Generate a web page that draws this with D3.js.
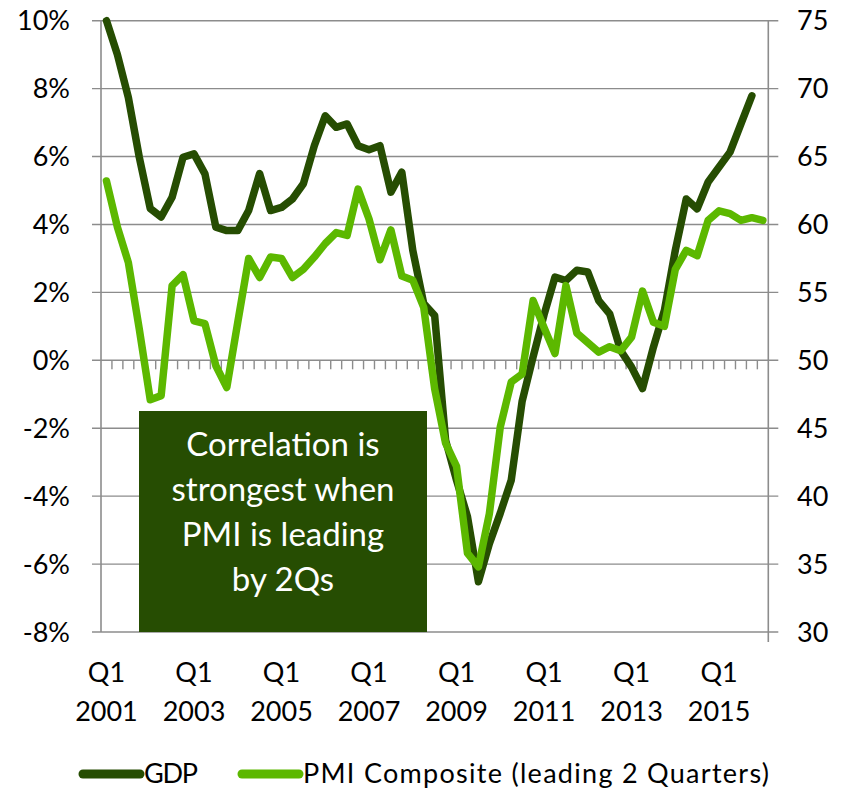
<!DOCTYPE html>
<html>
<head>
<meta charset="utf-8">
<script src="https://cdn.jsdelivr.net/npm/d3@7"></script>
<style>
  body { margin: 0; background: #fff; }
  svg { display: block; font-family: Lato, "Open Sans", sans-serif; }
</style>
</head>
<body>
<svg id="chart" width="844" height="789"></svg>
<script>
// quarters Q1 2001 .. Q1 2016
var quarters = [];
for (var yr = 2001; yr <= 2016; yr++) {
  for (var q = 1; q <= 4; q++) {
    if (yr == 2016 && q > 1) break;
    quarters.push("Q" + q + " " + yr);
  }
}

// GDP growth (%), Q1 2001 .. Q4 2015
var gdp = [
  10.0, 9.0, 7.74, 5.98, 4.47, 4.22, 4.8, 5.98, 6.08, 5.49,
  3.92, 3.82, 3.82, 4.41, 5.5, 4.41, 4.5, 4.75, 5.2, 6.32,
  7.2, 6.86, 6.96, 6.32, 6.2, 6.32, 4.95, 5.54, 3.24, 1.67,
  1.32, -2.35, -3.53, -4.6, -6.52, -5.4, -4.5, -3.53, -1.2, 0.1,
  1.34, 2.45, 2.35, 2.65, 2.6, 1.76, 1.37, 0.29, -0.2, -0.83,
  0.39, 1.47, 3.24, 4.75, 4.46, 5.25, 5.69, 6.13, 6.96, 7.79
];

// PMI composite, shifted forward 2 quarters, Q1 2001 .. Q1 2016
var pmi = [
  63.2, 59.8, 57.2, 52.3, 47.1, 47.4, 55.5, 56.3, 52.9, 52.7,
  49.6, 48.0, 52.8, 57.5, 56.1, 57.6, 57.5, 56.1, 56.7, 57.6,
  58.6, 59.4, 59.2, 62.6, 60.4, 57.4, 59.6, 56.2, 55.9, 53.9,
  47.9, 43.9, 42.2, 35.8, 34.8, 38.7, 45.1, 48.4, 49.0, 54.4,
  52.4, 50.5, 55.5, 52.0, 51.3, 50.6, 51.0, 50.7, 51.7, 55.1,
  52.8, 52.5, 56.7, 58.1, 57.7, 60.3, 61.0, 60.8, 60.3, 60.5, 60.3
];

var leftTicks = [-8, -6, -4, -2, 0, 2, 4, 6, 8, 10];
var rightTicks = [30, 35, 40, 45, 50, 55, 60, 65, 70, 75];
var xLabels = ["Q1 2001", "Q1 2003", "Q1 2005", "Q1 2007", "Q1 2009", "Q1 2011", "Q1 2013", "Q1 2015"];
var noteLines = ["Correlation is", "strongest when", "PMI is leading", "by 2Qs"];
var seriesNames = ["GDP", "PMI Composite (leading 2 Quarters)"];

var darkGreen = "#264d02";
var lightGreen = "#5cb800";
var gridColor = "#8c8c8c";

var svg = d3.select("#chart");

var plotLeft = 101, plotRight = 768.3, plotTop = 20.7, plotBottom = 632;

var x = d3.scaleBand().domain(quarters).range([plotLeft, plotRight]).padding(0);
var yL = d3.scaleLinear().domain([-8, 10]).range([plotBottom, plotTop]);
var yR = d3.scaleLinear().domain([30, 75]).range([plotBottom, plotTop]);
var cx = (d) => x(d) + x.bandwidth() / 2;

// ================ gridlines ================
svg.append("g")
  .selectAll("line")
  .data(leftTicks)
  .enter()
  .append("line")
  .attr("x1", plotLeft - 9)
  .attr("x2", plotRight + 10)
  .attr("y1", (d) => yL(d))
  .attr("y2", (d) => yL(d))
  .style("stroke", gridColor)
  .style("stroke-width", "1.4px");

// axis lines
svg.append("line")
  .attr("x1", plotLeft).attr("x2", plotLeft)
  .attr("y1", plotTop).attr("y2", plotBottom)
  .style("stroke", gridColor).style("stroke-width", "1.6px");
svg.append("line")
  .attr("x1", plotRight).attr("x2", plotRight)
  .attr("y1", plotTop).attr("y2", plotBottom + 10)
  .style("stroke", gridColor).style("stroke-width", "1.6px");

// category tick marks on the zero line
svg.append("g")
  .selectAll("line")
  .data(quarters.slice(1))
  .enter()
  .append("line")
  .attr("x1", (d) => x(d))
  .attr("x2", (d) => x(d))
  .attr("y1", yL(0))
  .attr("y2", yL(0) + 9)
  .style("stroke", gridColor)
  .style("stroke-width", "1.4px");

// ================ axis labels ================
svg.append("g")
  .selectAll("text")
  .data(leftTicks)
  .enter()
  .append("text")
  .text((d) => d + "%")
  .attr("x", 70)
  .attr("y", (d) => yL(d))
  .attr("dy", "0.36em")
  .style("text-anchor", "end")
  .style("font-size", "27px")
  .style("fill", "#000");

svg.append("g")
  .selectAll("text")
  .data(rightTicks)
  .enter()
  .append("text")
  .text((d) => d)
  .attr("x", 797)
  .attr("y", (d) => yR(d))
  .attr("dy", "0.36em")
  .style("font-size", "27px")
  .style("fill", "#000");

var xl = svg.append("g")
  .selectAll("text")
  .data(xLabels)
  .enter()
  .append("text")
  .attr("x", (d) => cx(d))
  .attr("y", 682)
  .style("text-anchor", "middle")
  .style("font-size", "27px")
  .style("fill", "#000");
xl.append("tspan").attr("x", (d) => cx(d)).text((d) => d.split(" ")[0]);
xl.append("tspan").attr("x", (d) => cx(d)).attr("dy", 39).text((d) => d.split(" ")[1]);

// ================ note box ================
svg.append("rect")
  .attr("x", 139)
  .attr("y", 411)
  .attr("width", 288)
  .attr("height", plotBottom - 411)
  .style("fill", darkGreen);

svg.append("g")
  .selectAll("text")
  .data(noteLines)
  .enter()
  .append("text")
  .text((d) => d)
  .attr("x", 283)
  .attr("y", (d, i) => 456 + i * 45)
  .style("text-anchor", "middle")
  .style("font-size", "33px")
  .style("fill", "#fff");

// ================ lines ================
var gdpLine = d3.line()
  .x((d, i) => cx(quarters[i]))
  .y((d) => yL(d));
var pmiLine = d3.line()
  .x((d, i) => cx(quarters[i]))
  .y((d) => yR(d));

svg.append("path")
  .attr("d", gdpLine(gdp))
  .style("fill", "none")
  .style("stroke", darkGreen)
  .style("stroke-width", "7.5px")
  .style("stroke-linejoin", "round")
  .style("stroke-linecap", "round");

svg.append("path")
  .attr("d", pmiLine(pmi))
  .style("fill", "none")
  .style("stroke", lightGreen)
  .style("stroke-width", "7.5px")
  .style("stroke-linejoin", "round")
  .style("stroke-linecap", "round");

// ================ legend ================
var legendX = [83, 242];
var legendW = [54, 466];
var legend = svg.append("g");
legend.selectAll("line")
  .data(seriesNames)
  .enter()
  .append("line")
  .attr("x1", (d, i) => legendX[i])
  .attr("x2", (d, i) => legendX[i] + 57)
  .attr("y1", 774)
  .attr("y2", 774)
  .style("stroke", (d, i) => (i == 0 ? darkGreen : lightGreen))
  .style("stroke-width", "9px")
  .style("stroke-linecap", "round");
legend.selectAll("text")
  .data(seriesNames)
  .enter()
  .append("text")
  .text((d) => d)
  .attr("x", (d, i) => legendX[i] + 61)
  .attr("y", 783)
  .attr("textLength", (d, i) => legendW[i])
  .attr("lengthAdjust", "spacing")
  .style("font-size", "27px")
  .style("fill", "#000");
</script>
</body>
</html>
